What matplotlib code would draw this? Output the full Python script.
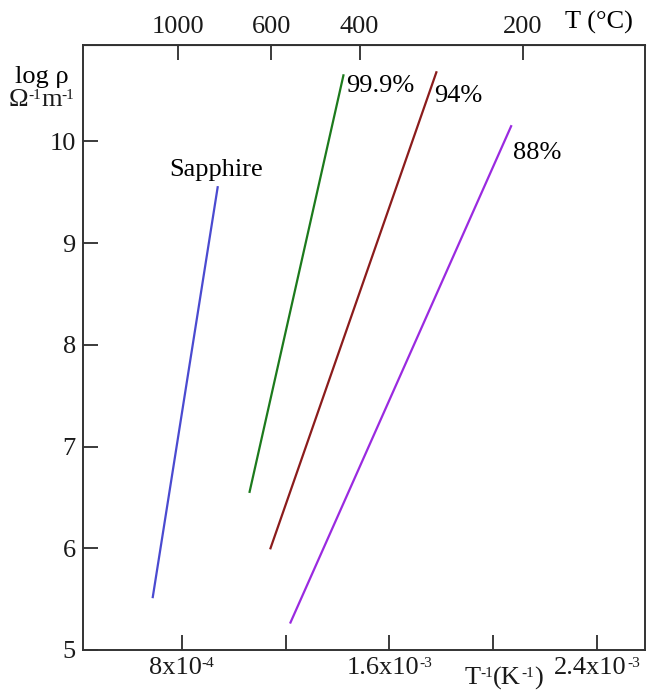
import matplotlib
matplotlib.use('Agg')
import matplotlib.pyplot as plt
from matplotlib.offsetbox import TextArea, HPacker, AnnotationBbox

plt.rcParams['font.family'] = ['Liberation Serif', 'DejaVu Serif']

# endpoints of each line (1/T in K^-1, log rho)
sapphire_x = [6.885e-4, 9.385e-4]
sapphire_y = [5.52, 9.55]
p999_x = [1.0615e-3, 1.423e-3]
p999_y = [6.555, 10.65]
p94_x = [1.142e-3, 1.781e-3]
p94_y = [6.0, 10.68]
p88_x = [1.219e-3, 2.069e-3]
p88_y = [5.27, 10.15]

bottom_ticks = [8e-4, 1.2e-3, 1.6e-3, 2.0e-3, 2.4e-3]
bottom_labels = [('8x10', '-4'), None, ('1.6x10', '-3'), None, ('2.4x10', '-3')]
top_ticks_c = [1000, 600, 400, 200]

FS = 19
SS = 11
INK = '#1a1a1a'


def rich(parts):
    # parts: list of (text, is_superscript)
    kids = []
    for t, sup in parts:
        kids.append(TextArea(t, textprops=dict(fontsize=SS if sup else FS, color=INK)))
    return HPacker(children=kids, align='top', pad=0, sep=0)


def place(ax, parts, xy, coords, align):
    ab = AnnotationBbox(rich(parts), xy, xycoords=coords, box_alignment=align,
                        frameon=False, pad=0, annotation_clip=False)
    ax.add_artist(ab)


fig = plt.figure(figsize=(6.47, 6.90), dpi=100)
ax = fig.add_axes([0.128, 0.058, 0.869, 0.877])

ax.plot(sapphire_x, sapphire_y, color='#4a4ad0', lw=1.6)
ax.plot(p999_x, p999_y, color='#1c7a1c', lw=1.6)
ax.plot(p94_x, p94_y, color='#8b1c1c', lw=1.6)
ax.plot(p88_x, p88_y, color='#9a2ae0', lw=1.6)

ax.text(9.31e-4, 9.72, 'Sapphire', fontsize=FS, ha='center', va='center')
ax.text(1.435e-3, 10.55, '99.9%', fontsize=FS, ha='left', va='center')
ax.text(1.773e-3, 10.45, '94%', fontsize=FS, ha='left', va='center')
ax.text(2.077e-3, 9.89, '88%', fontsize=FS, ha='left', va='center')

ax.set_xlim(4.19e-4, 2.585e-3)
ax.set_ylim(5, 10.95)

ax.set_xticks(bottom_ticks)
ax.set_xticklabels([''] * len(bottom_ticks))
ax.set_yticks([5, 6, 7, 8, 9, 10])
ax.tick_params(axis='both', direction='in', length=11, width=1.2,
               labelsize=FS, colors=INK)
ax.tick_params(axis='y', pad=5)
for s in ax.spines.values():
    s.set_color('#333333')
    s.set_linewidth(1.4)

# bottom tick labels with small superscripts
for xv, lab in zip(bottom_ticks, bottom_labels):
    if lab is None:
        continue
    place(ax, [(lab[0], False), (lab[1], True)], (xv, -0.011),
          ax.get_xaxis_transform(), (0.5, 1.0))

# top axis in degrees C
top = ax.secondary_xaxis('top', functions=(lambda x: 1.0 / x - 273.15,
                                           lambda t: 1.0 / (t + 273.15)))
top.set_xticks(top_ticks_c)
top.set_xticklabels([str(t) for t in top_ticks_c])
top.tick_params(direction='in', length=11, width=1.2, labelsize=FS,
                colors=INK, pad=5)

fig.text(0.925, 0.968, 'T (°C)', fontsize=FS, ha='center', va='center')
place(ax, [('T', False), ('-1', True), ('(K', False), ('-1', True), (')', False)],
      (0.778, 0.0), fig.transFigure, (0.5, 0.0))
fig.text(0.064, 0.888, 'log ρ', fontsize=FS, ha='center', va='center')
place(ax, [('Ω', False), ('-1', True), ('m', False), ('-1', True)],
      (0.064, 0.855), fig.transFigure, (0.5, 0.5))

fig.savefig('out.png', dpi=100)
